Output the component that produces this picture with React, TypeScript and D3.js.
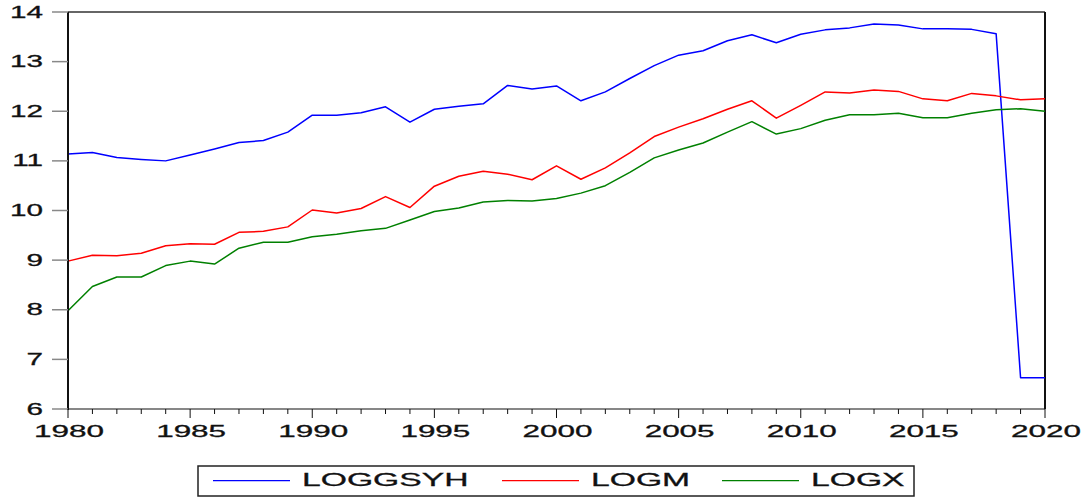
import React from "react";
import * as d3 from "d3";

const years: number[] = d3.range(1980, 2021);

const loggsyh: number[] = [
  11.14, 11.17, 11.07, 11.03, 11.0, 11.12, 11.24, 11.37, 11.41, 11.58,
  11.92, 11.92, 11.97, 12.09, 11.78, 12.04, 12.1, 12.15, 12.52, 12.45,
  12.51, 12.21, 12.39, 12.66, 12.92, 13.13, 13.22, 13.42, 13.54, 13.38,
  13.55, 13.64, 13.68, 13.76, 13.74, 13.66, 13.66, 13.65, 13.56, 6.63,
  6.63,
];

const logm: number[] = [
  8.98, 9.1, 9.09, 9.14, 9.29, 9.33, 9.32, 9.56, 9.58, 9.67,
  10.01, 9.95, 10.04, 10.28, 10.06, 10.49, 10.69, 10.79, 10.73, 10.62,
  10.9, 10.63, 10.86, 11.16, 11.49, 11.68, 11.85, 12.04, 12.21, 11.86,
  12.12, 12.39, 12.37, 12.43, 12.4, 12.25, 12.21, 12.36, 12.31, 12.23,
  12.25,
];

const logx: number[] = [
  7.98, 8.47, 8.66, 8.66, 8.89, 8.98, 8.92, 9.24, 9.36, 9.36,
  9.47, 9.52, 9.59, 9.64, 9.81, 9.98, 10.05, 10.17, 10.2, 10.19,
  10.24, 10.35, 10.5, 10.77, 11.06, 11.22, 11.36, 11.58, 11.79, 11.54,
  11.65, 11.82, 11.93, 11.93, 11.96, 11.87, 11.87, 11.96, 12.03, 12.05,
  12.0,
];

const yTicks: number[] = [6, 7, 8, 9, 10, 11, 12, 13, 14];
const xLabelYears: number[] = [1980, 1985, 1990, 1995, 2000, 2005, 2010, 2015, 2020];

const seriesNames: string[] = ["LOGGSYH", "LOGM", "LOGX"];
const seriesColors: string[] = ["#0000ff", "#ff0000", "#008000"];
const seriesData: number[][] = [loggsyh, logm, logx];

const W = 1083;
const H = 498;
const left = 68;
const right = 1045;
const top = 12;
const bottom = 409;
const SX = 1.85;
const FONT = "'Liberation Sans', Arial, sans-serif";

export default function App() {
  const x = d3.scaleLinear().domain([1980, 2020]).range([left, right]);
  const y = d3.scaleLinear().domain([6, 14]).range([bottom, top]);
  const line = d3
    .line<[number, number]>()
    .x((d) => x(d[0]))
    .y((d) => y(d[1]));

  const legendX = [213, 502, 722];

  return (
    <svg
      width={W}
      height={H}
      style={{ position: "absolute", left: 0, top: 0, background: "#fff" }}
    >
      <rect x={0} y={0} width={W} height={H} fill="#fff" />
      {/* frame */}
      <line x1={left} x2={right} y1={top} y2={top} stroke="#333" strokeWidth={1.5} />
      <line x1={right} x2={right} y1={top} y2={bottom} stroke="#111" strokeWidth={2} />
      {/* series */}
      {seriesData.map((vals, i) => (
        <path
          key={seriesNames[i]}
          d={line(years.map((yr, j) => [yr, vals[j]]) as [number, number][]) || ""}
          fill="none"
          stroke={seriesColors[i]}
          strokeWidth={1.5}
          strokeLinejoin="round"
        />
      ))}
      {/* y axis */}
      <line x1={left} x2={left} y1={top} y2={bottom + 1} stroke="#111" strokeWidth={2} />
      {yTicks.map((t) => (
        <g key={t}>
          <line x1={52} x2={left} y1={y(t)} y2={y(t)} stroke="#888" strokeWidth={1.5} />
          <text
            transform={`translate(43,${y(t) + 5.5}) scale(${SX},1)`}
            textAnchor="end"
            fontFamily={FONT}
            fontSize={16}
            fill="#111"
            stroke="#111"
            strokeWidth={0.3}
          >
            {t}
          </text>
        </g>
      ))}
      {/* x axis */}
      <line x1={left} x2={right} y1={bottom} y2={bottom} stroke="#111" strokeWidth={1.2} />
      {years.map((yr) => (
        <line
          key={yr}
          x1={x(yr)}
          x2={x(yr)}
          y1={bottom}
          y2={yr % 5 === 0 ? bottom + 9 : bottom + 5}
          stroke="#111"
          strokeWidth={1}
        />
      ))}
      {xLabelYears.map((yr) => (
        <text
          key={yr}
          transform={`translate(${x(yr) + 1},${436.5}) scale(${SX},1)`}
          textAnchor="middle"
          fontFamily={FONT}
          fontSize={17}
          fill="#111"
          stroke="#111"
          strokeWidth={0.3}
        >
          {yr}
        </text>
      ))}
      {/* legend */}
      <rect x={198} y={466} width={716} height={30} fill="#fff" stroke="#222" strokeWidth={1.5} />
      {seriesNames.map((name, i) => (
        <g key={name}>
          <line
            x1={legendX[i]}
            x2={legendX[i] + 77}
            y1={480.7}
            y2={480.7}
            stroke={seriesColors[i]}
            strokeWidth={1.2}
          />
          <text
            transform={`translate(${legendX[i] + 89},485.7) scale(1.82,1)`}
            fontFamily={FONT}
            fontSize={18.5}
            fill="#111"
            stroke="#111"
            strokeWidth={0.3}
          >
            {name}
          </text>
        </g>
      ))}
    </svg>
  );
}
